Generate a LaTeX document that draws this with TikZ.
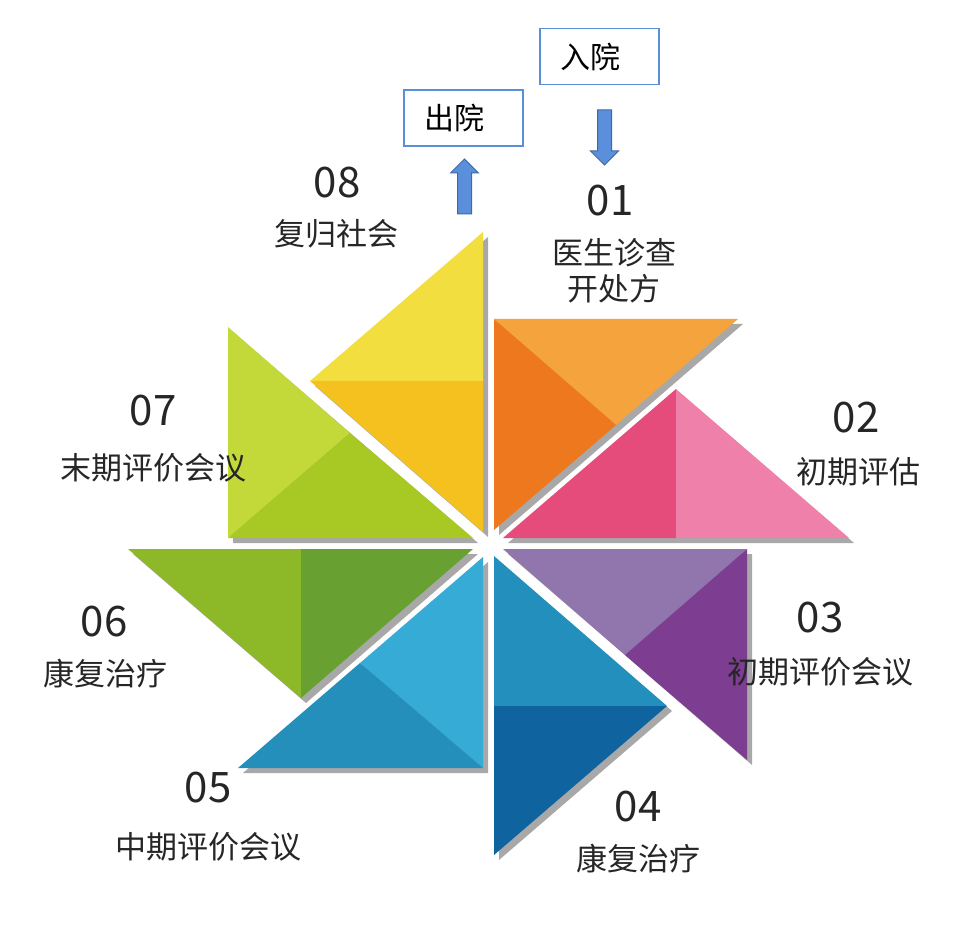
\documentclass[tikz,border=0pt]{standalone}
\usepackage{fontspec}
\usepackage{xcolor}
\usepackage{tikz}
\usetikzlibrary{shapes.arrows}
\newfontfamily\cjk{Noto Sans CJK SC}

\definecolor{orangeLight}{HTML}{F5A33C}
\definecolor{orangeDark}{HTML}{EE781E}
\definecolor{pinkDark}{HTML}{E54B7B}
\definecolor{pinkLight}{HTML}{EE80A9}
\definecolor{purpleLight}{HTML}{9175AD}
\definecolor{purpleDark}{HTML}{7D3E92}
\definecolor{blueMid}{HTML}{238FBC}
\definecolor{blueDeep}{HTML}{0F64A0}
\definecolor{skyLight}{HTML}{35ABD6}
\definecolor{skyDark}{HTML}{248FBA}
\definecolor{greenLight}{HTML}{8DB828}
\definecolor{greenDark}{HTML}{68A032}
\definecolor{limeLight}{HTML}{C3D839}
\definecolor{limeDark}{HTML}{A8C923}
\definecolor{yellowLight}{HTML}{F2DF3F}
\definecolor{yellowDark}{HTML}{F4C11F}
\definecolor{shadowgray}{HTML}{A8A8A8}
\definecolor{labelgray}{HTML}{262626}
\definecolor{boxblue}{HTML}{5A8ED8}
\definecolor{arrowblue}{HTML}{5B8FDC}
\definecolor{arrowedge}{HTML}{41689F}

\begin{document}
\begin{tikzpicture}[
  x=1pt, y=-1pt,
  backshadow/.style={fill=shadowgray, shift={(5,5)}},
  stagebox/.style={draw=boxblue, line width=1.5pt, text width=79pt,
    align=left, inner xsep=20pt, minimum height=56pt,
    font=\cjk\fontsize{30}{34}\selectfont},
  blockarrow/.style={single arrow, draw=arrowedge, fill=arrowblue,
    line width=1pt, inner xsep=0pt, inner ysep=6.5pt,
    single arrow head extend=7pt, minimum height=55pt},
  num/.style={font=\cjk\fontsize{42}{46}\selectfont, text=labelgray},
  lbl/.style={font=\cjk\fontsize{31}{36}\selectfont, text=labelgray,
    align=center}
]
  \useasboundingbox (0,0) rectangle (970,933);

  % shadows
  \fill[backshadow] (494,319) -- (738,319) -- (494,530) -- cycle;
  \fill[backshadow] (503,538) -- (676,389) -- (849,538) -- cycle;
  \fill[backshadow] (503,549) -- (747,549) -- (747,760) -- cycle;
  \fill[backshadow] (494,556) -- (667,706) -- (494,855) -- cycle;
  \fill[backshadow] (483,557) -- (483,768) -- (238,768) -- cycle;
  \fill[backshadow] (128,549) -- (473,549) -- (301,698) -- cycle;
  \fill[backshadow] (228,327) -- (228,538) -- (473,538) -- cycle;
  \fill[backshadow] (483,232) -- (310,381) -- (483,532) -- cycle;

  % 01
  \fill[orangeLight] (494,319) -- (738,319) -- (616,425) -- cycle;
  \fill[orangeDark] (494,319) -- (616,425) -- (494,530) -- cycle;
  % 02
  \fill[pinkDark] (503,538) -- (676,389) -- (676,538) -- cycle;
  \fill[pinkLight] (676,389) -- (849,538) -- (676,538) -- cycle;
  % 03
  \fill[purpleLight] (503,549) -- (747,549) -- (625,655) -- cycle;
  \fill[purpleDark] (747,549) -- (747,760) -- (625,655) -- cycle;
  % 04
  \fill[blueMid] (494,556) -- (667,706) -- (494,706) -- cycle;
  \fill[blueDeep] (494,706) -- (667,706) -- (494,855) -- cycle;
  % 05
  \fill[skyLight] (483,557) -- (483,768) -- (360,663) -- cycle;
  \fill[skyDark] (238,768) -- (483,768) -- (360,663) -- cycle;
  % 06
  \fill[greenLight] (128,549) -- (301,549) -- (301,698) -- cycle;
  \fill[greenDark] (301,549) -- (473,549) -- (301,698) -- cycle;
  % 07
  \fill[limeLight] (228,327) -- (228,538) -- (350,433) -- cycle;
  \fill[limeDark] (228,538) -- (473,538) -- (350,433) -- cycle;
  % 08
  \fill[yellowLight] (483,232) -- (310,381) -- (483,381) -- cycle;
  \fill[yellowDark] (310,381) -- (483,381) -- (483,532) -- cycle;

  % admission / discharge
  \node[stagebox] (admit) at (599.5,56.5) {入院};
  \node[stagebox] (discharge) at (463.5,118) {出院};
  \node[blockarrow, rotate=-90] (inarrow) at (604.5,134) {};
  \node[blockarrow, rotate=90] (outarrow) at (464.5,190) {};

  % labels
  \node[num] (num01) at (610,201) {01};
  \node[lbl] (txt01) at (614,271) {医生诊查\\开处方};
  \node[num] (num02) at (856,418) {02};
  \node[lbl] (txt02) at (858,472) {初期评估};
  \node[num] (num03) at (820,618) {03};
  \node[lbl] (txt03) at (820,672) {初期评价会议};
  \node[num] (num04) at (638,807) {04};
  \node[lbl] (txt04) at (638,859) {康复治疗};
  \node[num] (num05) at (208,788) {05};
  \node[lbl] (txt05) at (208,847) {中期评价会议};
  \node[num] (num06) at (104,622) {06};
  \node[lbl] (txt06) at (105,674) {康复治疗};
  \node[num] (num07) at (153,411) {07};
  \node[lbl] (txt07) at (153,468) {末期评价会议};
  \node[num] (num08) at (337,183) {08};
  \node[lbl] (txt08) at (336,234) {复归社会};
\end{tikzpicture}
\end{document}
